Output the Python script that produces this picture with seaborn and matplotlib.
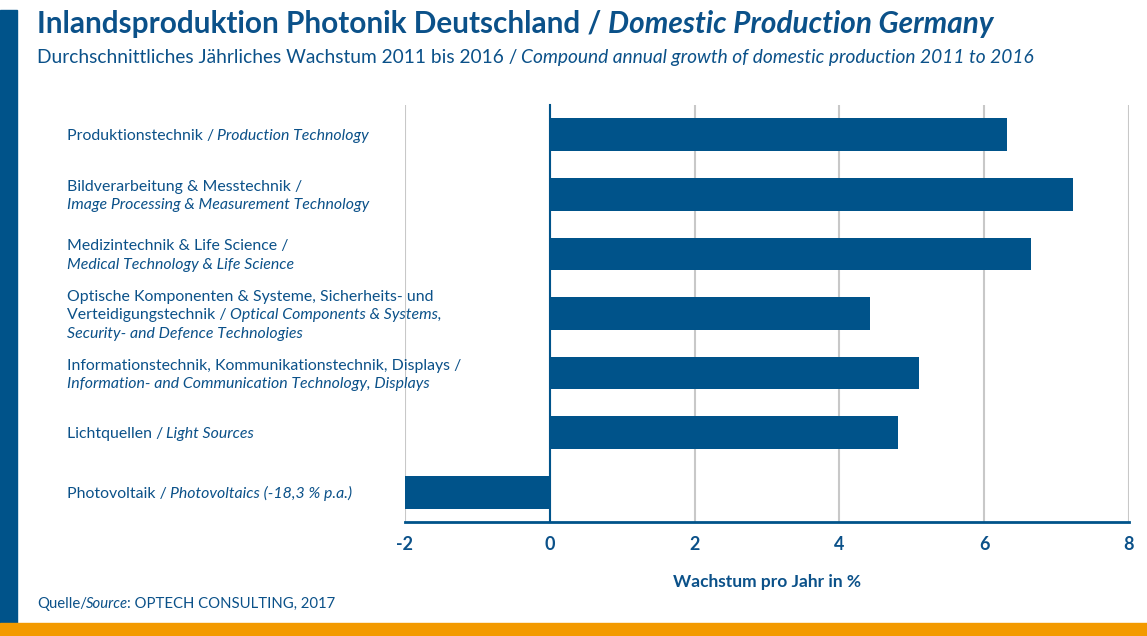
import numpy as np
import pandas as pd
import matplotlib
matplotlib.use("Agg")
from matplotlib import pyplot as plt
from matplotlib.patches import Rectangle
from matplotlib.transforms import IdentityTransform
import seaborn as sns

# data
cat_de = ["Produktionstechnik",
          "Bildverarbeitung & Messtechnik",
          "Medizintechnik & Life Science",
          "Optische Komponenten & Systeme, Sicherheits- und\nVerteidigungstechnik",
          "Informationstechnik, Kommunikationstechnik, Displays",
          "Lichtquellen",
          "Photovoltaik"]
cat_en = ["Production Technology",
          "\nImage Processing & Measurement Technology",
          "\nMedical Technology & Life Science",
          "Optical Components & Systems,\nSecurity- and Defence Technologies",
          "\nInformation- and Communication Technology, Displays",
          "Light Sources",
          "Photovoltaics (-18,3 % p.a.)"]
growth = [6.32, 7.23, 6.64, 4.42, 5.10, 4.81, -18.3]
x_ticks = [-2, 0, 2, 4, 6, 8]

BLUE = "#00538a"
TEXT = "#0b5189"
ORANGE = "#f39a00"
GRID = "#c8c8c8"

sns.set_style("white")
plt.rcParams["font.family"] = ["Lato", "DejaVu Sans"]

W, H = 1147, 636
fig = plt.figure(figsize=(W / 100, H / 100), dpi=100)
ax = fig.add_axes([405 / W, 114 / H, (1129 - 405) / W, (522 - 105) / H])

df = pd.DataFrame({"cat": cat_de, "growth": growth})
sns.barplot(data=df, x="growth", y="cat", color=BLUE, width=0.55,
            saturation=1, linewidth=0, ax=ax)

ax.set_xlim(-2, 8)
ax.set_ylim(6.5, -0.5)
ax.set_xticks(x_ticks)
ax.set_xticklabels([str(t) for t in x_ticks])
ax.set_yticks([])
ax.set_yticks(np.arange(-0.5, 7, 1), minor=True)
ax.tick_params(axis="y", which="minor", length=7, width=1.5, color=BLUE, direction="out")
ax.tick_params(axis="x", length=0, pad=10, labelsize=13, labelcolor=TEXT)
for lab in ax.get_xticklabels():
    lab.set_fontweight("bold")
ax.set_ylabel("")
ax.set_xlabel("Wachstum pro Jahr in %", fontsize=12.5, fontweight="bold",
              color=TEXT, labelpad=15)

ax.grid(axis="x", color=GRID, linewidth=1.5)
ax.set_axisbelow(True)
for s in ["top", "right"]:
    ax.spines[s].set_visible(False)
ax.spines["left"].set_position(("data", 0))
ax.spines["left"].set_color(BLUE)
ax.spines["left"].set_linewidth(1.5)
ax.spines["left"].set_zorder(5)
ax.spines["bottom"].set_color(BLUE)
ax.spines["bottom"].set_linewidth(2)

# frame decorations
fig.patches.append(Rectangle((0, 13 / H), 17 / W, (623 - 10) / H,
                             transform=fig.transFigure, color=BLUE, zorder=0))
fig.patches.append(Rectangle((0, 0), 1, 13 / H, transform=fig.transFigure,
                             color=ORANGE, zorder=0))

renderer = fig.canvas.get_renderer()


def text_width(s, size, weight="normal", style="normal"):
    t = fig.text(0, 0, s, fontsize=size, fontweight=weight, fontstyle=style)
    w = t.get_window_extent(renderer).width
    t.remove()
    return w


def draw_line(x, y, segments, size, weight="normal"):
    # segments: list of (text, italic); y = visual centre in display pixels
    sp = text_width("x x", size, weight) - text_width("xx", size, weight)
    base = y - 0.36 * size * 100 / 72
    for txt, italic in segments:
        x += sp * (len(txt) - len(txt.lstrip(" ")))
        t = fig.text(x, base, txt.strip(" "), transform=IdentityTransform(),
                     fontsize=size, fontweight=weight,
                     fontstyle="italic" if italic else "normal",
                     color=TEXT, ha="left", va="baseline")
        x = t.get_window_extent(renderer).x1 - 1
        x += sp * (len(txt) - len(txt.rstrip(" ")))


# title, subtitle, source
draw_line(37, H - 22, [("Inlandsproduktion Photonik Deutschland /", False),
                       (" Domestic Production Germany", True)], 21.4, "bold")
draw_line(37, H - 56, [("Durchschnittliches Jährliches Wachstum 2011 bis 2016 /", False),
                       (" Compound annual growth of domestic production 2011 to 2016", True)], 13.8)
draw_line(37, H - 603, [("Quelle/", False), ("Source", True),
                        (": OPTECH CONSULTING, 2017", False)], 10.7)

# category labels, mixed upright / italic
LINE = 18.5
for i, (de, en) in enumerate(zip(cat_de, cat_en)):
    lines = [[(l, False)] for l in de.split("\n")]
    en_parts = en.split("\n")
    lines[-1][-1] = (lines[-1][-1][0] + " /", False)
    if en_parts[0]:
        lines[-1].append((" " + en_parts[0], True))
    for part in en_parts[1:]:
        lines.append([(part, True)])
    yc = ax.transData.transform((0, i))[1]
    n = len(lines)
    for k, segs in enumerate(lines):
        y = yc + (n - 1) / 2 * LINE - k * LINE
        draw_line(67, y, segs, 11.4)

fig.savefig("out.png", dpi=100)
